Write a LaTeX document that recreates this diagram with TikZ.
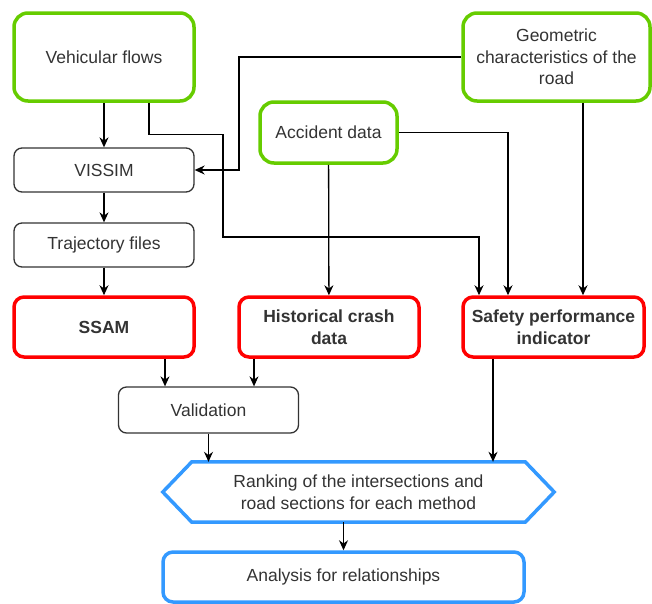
\documentclass[tikz,border=0pt]{standalone}
\usepackage{fontspec}
\setmainfont{Liberation Sans}
\usetikzlibrary{arrows.meta,calc}
\definecolor{gbord}{HTML}{66CC00}
\definecolor{rbord}{HTML}{FF0000}
\definecolor{bbord}{HTML}{3399FF}
\definecolor{txt}{HTML}{333333}
\tikzset{
  base/.style={rectangle, align=center, text=txt, font=\fontsize{17.5}{21.5}\selectfont, inner sep=2pt},
  greenbox/.style={base, draw=gbord, line width=3.5pt, rounded corners=14pt},
  redbox/.style={base, draw=rbord, line width=3.5pt, rounded corners=10pt, font=\fontsize{17.5}{21.5}\selectfont\bfseries},
  plainbox/.style={base, draw=txt, line width=1.3pt, rounded corners=8pt},
  bluebox/.style={base, draw=bbord, line width=3.5pt, rounded corners=10pt},
  arr/.style={draw=black, line width=1.3pt, -{Stealth[length=10pt,width=9pt]}},
}
\begin{document}
\begin{tikzpicture}[x=1pt,y=-1pt]
\useasboundingbox (0,0) rectangle (652,603);
% nodes
\node[greenbox, minimum width=180pt, minimum height=88pt] (vf) at (104,57) {Vehicular flows};
\node[greenbox, minimum width=187pt, minimum height=88pt] (geo) at (556.5,57) {Geometric\\characteristics of the\\road};
\node[greenbox, minimum width=137pt, minimum height=61pt] (acc) at (328.5,132.5) {Accident data};
\node[plainbox, minimum width=180pt, minimum height=44pt] (vis) at (104,170) {VISSIM};
\node[plainbox, minimum width=180pt, minimum height=44pt] (traj) at (104,245) {Trajectory files};
\node[redbox, minimum width=180pt, minimum height=60pt] (ssam) at (104,327) {SSAM};
\node[redbox, minimum width=180pt, minimum height=60pt] (hist) at (329,327) {Historical crash\\data};
\node[redbox, minimum width=181pt, minimum height=60pt] (spi) at (553.5,327) {Safety performance\\indicator};
\node[plainbox, minimum width=180pt, minimum height=46pt] (val) at (208.5,410) {Validation};
\node[base, minimum width=333pt, minimum height=60pt] (rank) at (358.5,492) {Ranking of the intersections and\\road sections for each method};
\draw[draw=bbord, line width=3.5pt, line join=miter]
  (rank.north west) -- (rank.north east) -- ([xshift=29pt]rank.east) -- (rank.south east)
  -- (rank.south west) -- ([xshift=-29pt]rank.west) -- cycle;
\node[bluebox, minimum width=361pt, minimum height=50pt] (ana) at (343.5,577) {Analysis for relationships};
% connectors
\draw[arr] (vf) -- (vis);
\draw[arr] ([xshift=45pt]vf.south) -- ++(0,32) -| (223,237) -| ([xshift=-74.5pt]spi.north);
\draw[arr] (geo.west) -| (239,170) -- (vis.east);
\draw[arr] (acc) -- (hist);
\draw[arr] (acc.east) -| ([xshift=-45.5pt]spi.north);
\draw[arr] ([xshift=26.5pt]geo.south) -- ([xshift=26.5pt]geo.south |- spi.north);
\draw[arr] (vis) -- (traj);
\draw[arr] (traj) -- (ssam);
\draw[arr] ([xshift=61pt]ssam.south) -- ([xshift=61pt]ssam.south |- val.north);
\draw[arr] ([xshift=-75pt]hist.south) -- ([xshift=-75pt]hist.south |- val.north);
\draw[arr] (val) -- (val |- rank.north);
\draw[arr] ([xshift=-60.5pt]spi.south) -- ([xshift=-60.5pt]spi.south |- rank.north);
\draw[arr] (ana.north |- rank.south) -- (ana.north);
\end{tikzpicture}
\end{document}
